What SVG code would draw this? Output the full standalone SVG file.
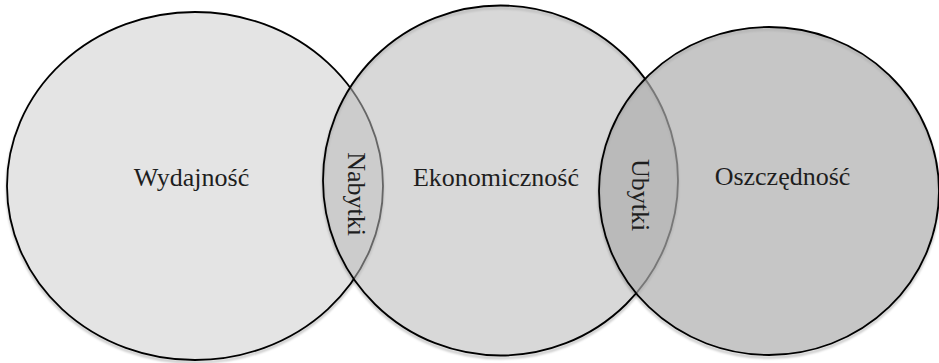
<svg xmlns="http://www.w3.org/2000/svg" width="939" height="363" viewBox="0 0 939 363">
  <style>
    .edge { stroke: #000; stroke-width: 1.8; }
    .shadow { fill: none; stroke: #000; stroke-opacity: 0.22; stroke-width: 2.5; filter: url(#blur); }
    .lbl { font-family: "Liberation Serif", "Times New Roman", serif; font-size: 26px; fill: #1e1e1e; text-anchor: middle; }
  </style>
  <defs>
    <filter id="blur" x="-10%" y="-10%" width="120%" height="120%">
      <feGaussianBlur stdDeviation="1.2"/>
    </filter>
  </defs>
  <rect width="939" height="363" fill="#fff"/>
  <g id="node-wydajnosc">
    <ellipse class="shadow" cx="195" cy="188.5" rx="188" ry="174"/>
    <ellipse class="edge" cx="195" cy="186" rx="188" ry="174" fill="#e4e4e4"/>
    <text class="lbl" x="191.5" y="186">Wydajność</text>
  </g>
  <g id="node-ekonomicznosc">
    <ellipse class="shadow" cx="500.5" cy="183" rx="177.5" ry="175"/>
    <ellipse class="edge" cx="500.5" cy="180.5" rx="177.5" ry="175" fill="#b8b8b8" fill-opacity="0.55"/>
    <text class="lbl" x="496" y="186">Ekonomiczność</text>
  </g>
  <g id="node-oszczednosc">
    <ellipse class="shadow" cx="769" cy="193.5" rx="170" ry="164"/>
    <ellipse class="edge" cx="769" cy="191" rx="170" ry="164" fill="#acacac" fill-opacity="0.69"/>
    <text class="lbl" x="782.5" y="185">Oszczędność</text>
  </g>
  <g id="overlap-labels">
    <text class="lbl" transform="translate(348,194) rotate(90)">Nabytki</text>
    <text class="lbl" transform="translate(632,195) rotate(90)">Ubytki</text>
  </g>
</svg>
